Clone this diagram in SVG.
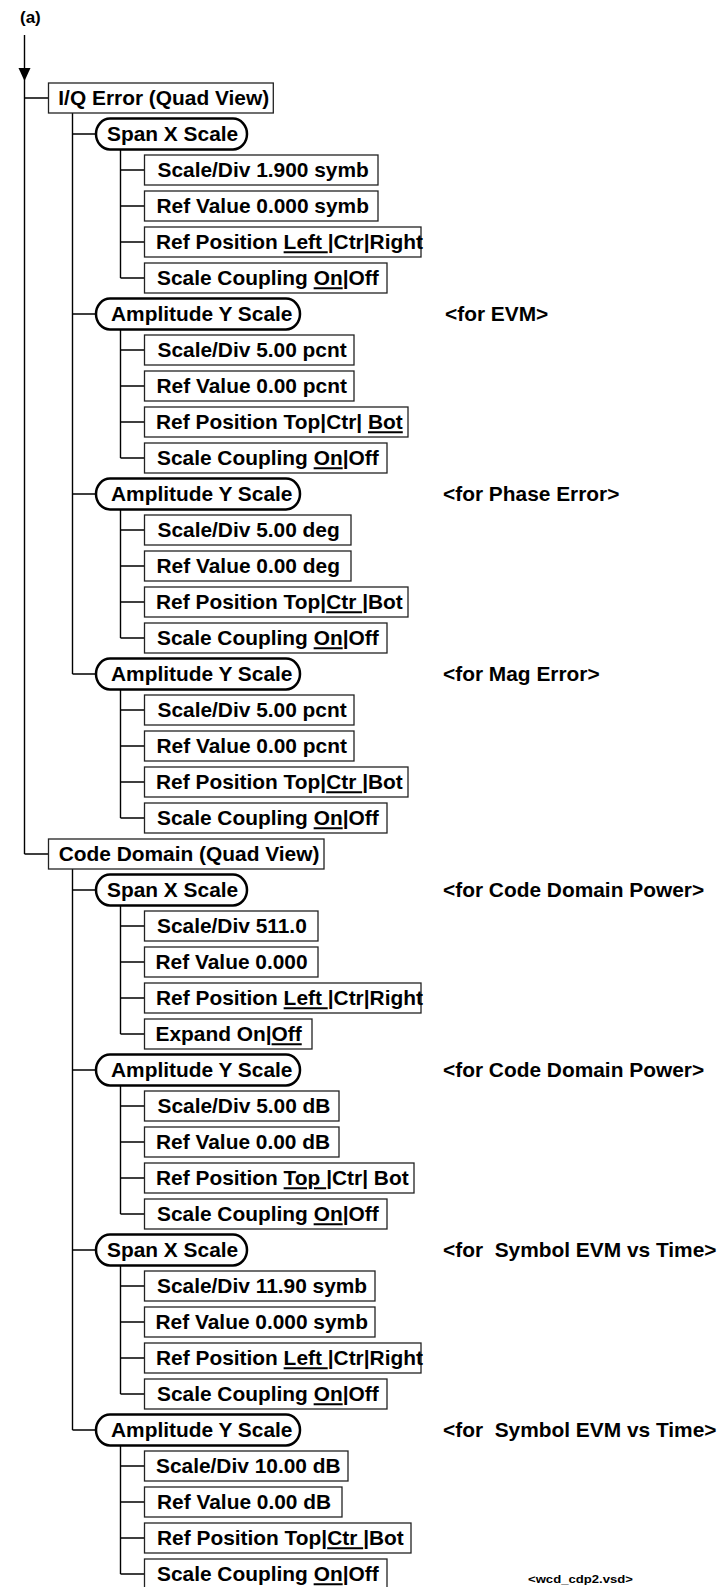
<svg xmlns="http://www.w3.org/2000/svg" width="726" height="1587" viewBox="0 0 726 1587">
<style>
.box{fill:#fff;stroke:#222;stroke-width:1.3}
.pill{fill:#fff;stroke:#000;stroke-width:2.5}
.ln{fill:none;stroke:#000;stroke-width:1.4}
.t{font-family:"Liberation Sans",Arial,Helvetica,sans-serif;font-weight:bold;font-size:20px;fill:#000}
.u{text-decoration:underline}
.pre{white-space:pre}
</style>
<rect width="726" height="1587" fill="#fff"/>
<text class="t" x="20" y="22.5" style="font-size:17px">(a)</text>

<g id="connectors">
<path class="ln" d="M24.5 35V854M24.5 98H48.5M24.5 854H48.5"/>
<polygon points="18.5,68 30.5,68 24.5,81" fill="#000"/>
<path class="ln" d="M72.5 113V674M72.5 134H96M72.5 314H96M72.5 494H96M72.5 674H96"/>
<path class="ln" d="M72.5 869V1430M72.5 890H96M72.5 1070H96M72.5 1250H96M72.5 1430H96"/>
<path class="ln" d="M120.5 149.5V278M120.5 170H144.5M120.5 206H144.5M120.5 242H144.5M120.5 278H144.5"/>
<path class="ln" d="M120.5 329.5V458M120.5 350H144.5M120.5 386H144.5M120.5 422H144.5M120.5 458H144.5"/>
<path class="ln" d="M120.5 509.5V638M120.5 530H144.5M120.5 566H144.5M120.5 602H144.5M120.5 638H144.5"/>
<path class="ln" d="M120.5 689.5V818M120.5 710H144.5M120.5 746H144.5M120.5 782H144.5M120.5 818H144.5"/>
<path class="ln" d="M120.5 905.5V1034M120.5 926H144.5M120.5 962H144.5M120.5 998H144.5M120.5 1034H144.5"/>
<path class="ln" d="M120.5 1085.5V1214M120.5 1106H144.5M120.5 1142H144.5M120.5 1178H144.5M120.5 1214H144.5"/>
<path class="ln" d="M120.5 1265.5V1394M120.5 1286H144.5M120.5 1322H144.5M120.5 1358H144.5M120.5 1394H144.5"/>
<path class="ln" d="M120.5 1445.5V1574M120.5 1466H144.5M120.5 1502H144.5M120.5 1538H144.5M120.5 1574H144.5"/>
</g>

<g id="n0"><rect class="box" x="48.5" y="83" width="224.8" height="30"/><text class="t" transform="translate(58.3,105.3) scale(1.045,1)">I/Q Error (Quad View)</text></g>
<g id="n1"><rect class="pill" x="96" y="118.5" width="151" height="31" rx="14" ry="15.5"/><text class="t" transform="translate(107,141.3) scale(1.045,1)">Span X Scale</text></g>
<g id="n2"><rect class="box" x="144.5" y="155" width="233.5" height="30"/><text class="t" transform="translate(157.5,177.3) scale(1.045,1)">Scale/Div 1.900 symb</text></g>
<g id="n3"><rect class="box" x="144.5" y="191" width="233.5" height="30"/><text class="t" transform="translate(156.5,213.3) scale(1.045,1)">Ref Value 0.000 symb</text></g>
<g id="n4"><rect class="box" x="144.5" y="227" width="276.5" height="30"/><text class="t" transform="translate(156,249.3) scale(1.045,1)">Ref Position <tspan class="u">Left </tspan>|Ctr|Right</text></g>
<g id="n5"><rect class="box" x="144.5" y="263" width="242.5" height="30"/><text class="t" transform="translate(157,285.3) scale(1.045,1)">Scale Coupling <tspan class="u">On</tspan>|Off</text></g>

<g id="n6"><rect class="pill" x="96" y="298.5" width="204" height="31" rx="14" ry="15.5"/><text class="t" transform="translate(111,321.3) scale(1.045,1)">Amplitude Y Scale</text></g>
<g id="l6"><text class="t" transform="translate(445,320.5) scale(1.045,1)">&lt;for EVM&gt;</text></g>
<g id="n7"><rect class="box" x="144.5" y="335" width="209.5" height="30"/><text class="t" transform="translate(157.5,357.3) scale(1.045,1)">Scale/Div 5.00 pcnt</text></g>
<g id="n8"><rect class="box" x="144.5" y="371" width="209.5" height="30"/><text class="t" transform="translate(156.5,393.3) scale(1.045,1)">Ref Value 0.00 pcnt</text></g>
<g id="n9"><rect class="box" x="144.5" y="407" width="263.5" height="30"/><text class="t" transform="translate(156,429.3) scale(1.045,1)">Ref Position Top|Ctr| <tspan class="u">Bot</tspan></text></g>
<g id="n10"><rect class="box" x="144.5" y="443" width="242.5" height="30"/><text class="t" transform="translate(157,465.3) scale(1.045,1)">Scale Coupling <tspan class="u">On</tspan>|Off</text></g>

<g id="n11"><rect class="pill" x="96" y="478.5" width="204" height="31" rx="14" ry="15.5"/><text class="t" transform="translate(111,501.3) scale(1.045,1)">Amplitude Y Scale</text></g>
<g id="l11"><text class="t" transform="translate(443,500.5) scale(1.045,1)">&lt;for Phase Error&gt;</text></g>
<g id="n12"><rect class="box" x="144.5" y="515" width="206.5" height="30"/><text class="t" transform="translate(157.5,537.3) scale(1.045,1)">Scale/Div 5.00 deg</text></g>
<g id="n13"><rect class="box" x="144.5" y="551" width="206.5" height="30"/><text class="t" transform="translate(156.5,573.3) scale(1.045,1)">Ref Value 0.00 deg</text></g>
<g id="n14"><rect class="box" x="144.5" y="587" width="263.5" height="30"/><text class="t" transform="translate(156,609.3) scale(1.045,1)">Ref Position Top|<tspan class="u">Ctr </tspan>|Bot</text></g>
<g id="n15"><rect class="box" x="144.5" y="623" width="242.5" height="30"/><text class="t" transform="translate(157,645.3) scale(1.045,1)">Scale Coupling <tspan class="u">On</tspan>|Off</text></g>

<g id="n16"><rect class="pill" x="96" y="658.5" width="204" height="31" rx="14" ry="15.5"/><text class="t" transform="translate(111,681.3) scale(1.045,1)">Amplitude Y Scale</text></g>
<g id="l16"><text class="t" transform="translate(443,680.5) scale(1.045,1)">&lt;for Mag Error&gt;</text></g>
<g id="n17"><rect class="box" x="144.5" y="695" width="209.5" height="30"/><text class="t" transform="translate(157.5,717.3) scale(1.045,1)">Scale/Div 5.00 pcnt</text></g>
<g id="n18"><rect class="box" x="144.5" y="731" width="209.5" height="30"/><text class="t" transform="translate(156.5,753.3) scale(1.045,1)">Ref Value 0.00 pcnt</text></g>
<g id="n19"><rect class="box" x="144.5" y="767" width="263.5" height="30"/><text class="t" transform="translate(156,789.3) scale(1.045,1)">Ref Position Top|<tspan class="u">Ctr </tspan>|Bot</text></g>
<g id="n20"><rect class="box" x="144.5" y="803" width="242.5" height="30"/><text class="t" transform="translate(157,825.3) scale(1.045,1)">Scale Coupling <tspan class="u">On</tspan>|Off</text></g>

<g id="n21"><rect class="box" x="48.5" y="839" width="275.5" height="30"/><text class="t" transform="translate(58.7,861.3) scale(1.045,1)">Code Domain (Quad View)</text></g>
<g id="n22"><rect class="pill" x="96" y="874.5" width="151" height="31" rx="14" ry="15.5"/><text class="t" transform="translate(107,897.3) scale(1.045,1)">Span X Scale</text></g>
<g id="l22"><text class="t" transform="translate(443,896.5) scale(1.045,1)">&lt;for Code Domain Power&gt;</text></g>
<g id="n23"><rect class="box" x="144.5" y="911" width="173.5" height="30"/><text class="t" transform="translate(157,933.3) scale(1.045,1)">Scale/Div 511.0</text></g>
<g id="n24"><rect class="box" x="144.5" y="947" width="173.5" height="30"/><text class="t" transform="translate(155.5,969.3) scale(1.045,1)">Ref Value 0.000</text></g>
<g id="n25"><rect class="box" x="144.5" y="983" width="276.5" height="30"/><text class="t" transform="translate(156,1005.3) scale(1.045,1)">Ref Position <tspan class="u">Left </tspan>|Ctr|Right</text></g>
<g id="n26"><rect class="box" x="144.5" y="1019" width="167.5" height="30"/><text class="t" transform="translate(155.5,1041.3) scale(1.045,1)">Expand On|<tspan class="u">Off</tspan></text></g>

<g id="n27"><rect class="pill" x="96" y="1054.5" width="204" height="31" rx="14" ry="15.5"/><text class="t" transform="translate(111,1077.3) scale(1.045,1)">Amplitude Y Scale</text></g>
<g id="l27"><text class="t" transform="translate(443,1076.5) scale(1.045,1)">&lt;for Code Domain Power&gt;</text></g>
<g id="n28"><rect class="box" x="144.5" y="1091" width="194.5" height="30"/><text class="t" transform="translate(157.5,1113.3) scale(1.045,1)">Scale/Div 5.00 dB</text></g>
<g id="n29"><rect class="box" x="144.5" y="1127" width="194.5" height="30"/><text class="t" transform="translate(156,1149.3) scale(1.045,1)">Ref Value 0.00 dB</text></g>
<g id="n30"><rect class="box" x="144.5" y="1163" width="269.5" height="30"/><text class="t" transform="translate(156,1185.3) scale(1.045,1)">Ref Position <tspan class="u">Top </tspan>|Ctr| Bot</text></g>
<g id="n31"><rect class="box" x="144.5" y="1199" width="242.5" height="30"/><text class="t" transform="translate(157,1221.3) scale(1.045,1)">Scale Coupling <tspan class="u">On</tspan>|Off</text></g>

<g id="n32"><rect class="pill" x="96" y="1234.5" width="151" height="31" rx="14" ry="15.5"/><text class="t" transform="translate(107,1257.3) scale(1.045,1)">Span X Scale</text></g>
<g id="l32"><text class="t pre" xml:space="preserve" transform="translate(443,1256.5) scale(1.045,1)">&lt;for  Symbol EVM vs Time&gt;</text></g>
<g id="n33"><rect class="box" x="144.5" y="1271" width="230.5" height="30"/><text class="t" transform="translate(157,1293.3) scale(1.045,1)">Scale/Div 11.90 symb</text></g>
<g id="n34"><rect class="box" x="144.5" y="1307" width="230.5" height="30"/><text class="t" transform="translate(155.5,1329.3) scale(1.045,1)">Ref Value 0.000 symb</text></g>
<g id="n35"><rect class="box" x="144.5" y="1343" width="276.5" height="30"/><text class="t" transform="translate(156,1365.3) scale(1.045,1)">Ref Position <tspan class="u">Left </tspan>|Ctr|Right</text></g>
<g id="n36"><rect class="box" x="144.5" y="1379" width="242.5" height="30"/><text class="t" transform="translate(157,1401.3) scale(1.045,1)">Scale Coupling <tspan class="u">On</tspan>|Off</text></g>

<g id="n37"><rect class="pill" x="96" y="1414.5" width="204" height="31" rx="14" ry="15.5"/><text class="t" transform="translate(111,1437.3) scale(1.045,1)">Amplitude Y Scale</text></g>
<g id="l37"><text class="t pre" xml:space="preserve" transform="translate(443,1436.5) scale(1.045,1)">&lt;for  Symbol EVM vs Time&gt;</text></g>
<g id="n38"><rect class="box" x="144.5" y="1451" width="203.5" height="30"/><text class="t" transform="translate(156,1473.3) scale(1.045,1)">Scale/Div 10.00 dB</text></g>
<g id="n39"><rect class="box" x="144.5" y="1487" width="197.5" height="30"/><text class="t" transform="translate(157,1509.3) scale(1.045,1)">Ref Value 0.00 dB</text></g>
<g id="n40"><rect class="box" x="144.5" y="1523" width="266.5" height="30"/><text class="t" transform="translate(157,1545.3) scale(1.045,1)">Ref Position Top|<tspan class="u">Ctr </tspan>|Bot</text></g>
<g id="n41"><rect class="box" x="144.5" y="1559" width="242.5" height="30"/><text class="t" transform="translate(157,1581.3) scale(1.045,1)">Scale Coupling <tspan class="u">On</tspan>|Off</text></g>

<text class="t" transform="translate(528,1583) scale(1.14,1)" style="font-size:11.5px">&lt;wcd_cdp2.vsd&gt;</text>
</svg>
